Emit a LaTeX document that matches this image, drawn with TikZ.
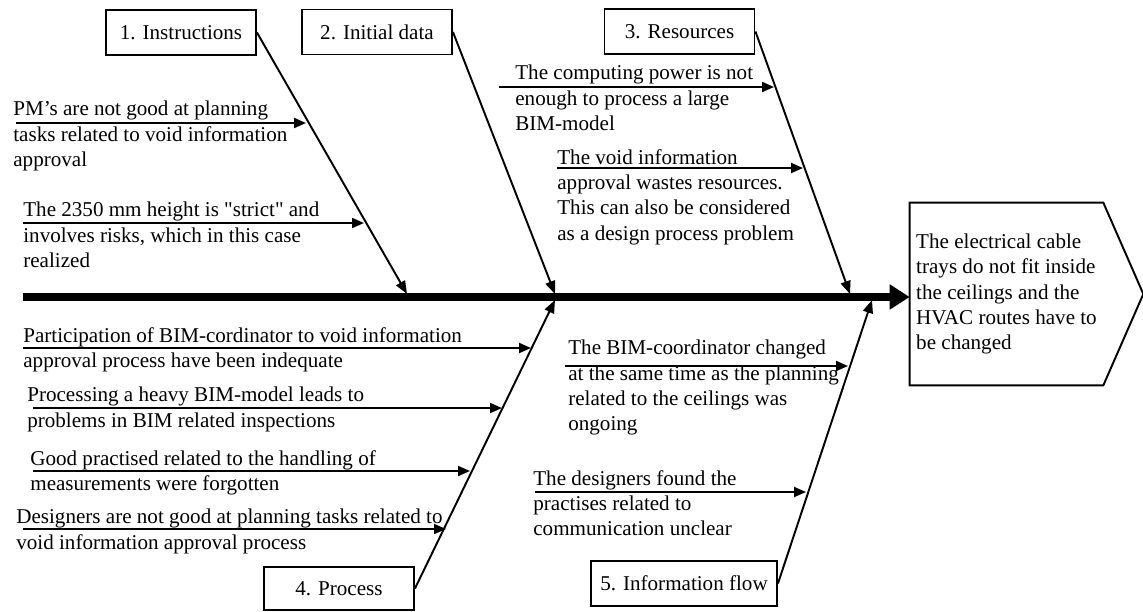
\documentclass[tikz,border=0pt]{standalone}
\usepackage{fontspec}
\newfontfamily\txtfont{Liberation Serif}
\usetikzlibrary{arrows.meta,positioning}

\begin{document}
\begin{tikzpicture}[x=0.02cm,y=-0.02cm,
    catbox/.style={draw,line width=1.1pt,minimum width=3cm,minimum height=0.9cm,inner sep=2pt},
    cause/.style={line width=1.1pt,-{Triangle[length=0.24cm,width=0.2cm]}},
    bone/.style={line width=1.1pt,-{Triangle[length=0.26cm,width=0.2cm]}}]
    \tikzstyle{every node}=[font=\txtfont\fontsize{12}{14.4}\selectfont]
    \tikzstyle{txt}=[anchor=north west,align=left,inner sep=0pt]
    \useasboundingbox (0,0) rectangle (1143,612);
    % problem
    \node[minimum width=3.86cm,minimum height=3.64cm,align=left,inner sep=0pt] (eff) at (1006.5,294)
      {The electrical cable\\trays do not fit inside\\the ceilings and the\\HVAC routes have to\\be changed};
    \draw[line width=1.1pt] (eff.south west) -- (eff.north west) -- (eff.north east)
      -- ([xshift=0.8cm]eff.east) -- (eff.south east) -- cycle;
    \coordinate (tail) at (23,297);
    \draw[line width=4pt,-{Triangle[length=0.4cm,width=0.48cm]}] (tail) -- (tail -| eff.west);
    % categories
    \node[catbox] (inst) at (181,32.5) {1. Instructions};
    \node[catbox] (data) at (377,32) {2. Initial data};
    \node[catbox] (res) at (679.5,31.5) {3. Resources};
    \node[catbox,minimum height=0.86cm] (proc) at (339,588.5) {4. Process};
    \node[catbox,minimum width=3.72cm] (flow) at (684,583.5) {5. Information flow};
    \coordinate (j1) at (407,294);
    \coordinate (j2) at (555,294);
    \coordinate (j3) at (850,294);
    \coordinate (j4) at (555,300);
    \coordinate (j5) at (872,300);
    \draw[bone] (inst.east) -- (j1);
    \draw[bone] (data.east) -- (j2);
    \draw[bone] (res.east) -- (j3);
    \draw[bone] (proc.east) -- (j4);
    \draw[bone] (flow.east) -- (j5);
    % causes
    \node[txt] (c1) at (13,101) {PM’s are not good at planning\\tasks related to void information\\approval};
    \node[txt] (c2) at (23,202) {The 2350 mm height is "strict" and\\involves risks, which in this case\\realized};
    \node[txt] (c3) at (515,65) {The computing power is not\\enough to process a large\\BIM-model};
    \node[txt] (c4) at (557,149) {The void information\\approval wastes resources.\\This can also be considered\\as a design process problem};
    \node[txt] (c5) at (23,327) {Participation of BIM-cordinator to void information\\approval process have been indequate};
    \node[txt] (c6) at (27,387) {Processing a heavy BIM-model leads to\\problems in BIM related inspections};
    \node[txt] (c7) at (30,450) {Good practised related to the handling of\\measurements were forgotten};
    \node[txt] (c8) at (16,509) {Designers are not good at planning tasks related to\\void information approval process};
    \node[txt] (c9) at (568,340) {The BIM-coordinator changed\\at the same time as the planning\\related to the ceilings was\\ongoing};
    \node[txt] (c10) at (533,470) {The designers found the\\practises related to\\communication unclear};
    \foreach \i/\xa/\xb/\y in {1/16/306/123, 2/23/364/223, 3/499/774/87, 4/557/803/168,
        5/23/531/348, 6/33/502/408, 7/33/470/471, 8/23/446/529, 9/565/848/366, 10/535/806/492}{
      \coordinate (s\i) at (\xa,\y);
      \coordinate (t\i) at (\xb,\y);
      \draw[cause] (s\i) -- (t\i);
    }
\end{tikzpicture}
\end{document}
